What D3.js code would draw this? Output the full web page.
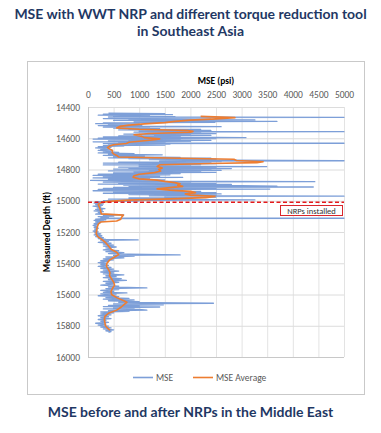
<!DOCTYPE html>
<html><head><meta charset="utf-8">
<script src="https://cdn.jsdelivr.net/npm/d3@7/dist/d3.min.js"></script>
<style>
html,body{margin:0;padding:0;background:#fff;}
svg{display:block;}
</style></head>
<body><svg id="c" width="381" height="433"></svg>
<script>
const titleTop = ["MSE with WWT NRP and different torque reduction tool", "in Southeast Asia"];
const titleBottom = "MSE before and after NRPs in the Middle East";
const xTicks = [0,500,1000,1500,2000,2500,3000,3500,4000,4500,5000];
const yTicks = [14400,14600,14800,15000,15200,15400,15600,15800,16000];
const seriesNames = ["MSE","MSE Average"];
const nrpDepth = 15010;
const nrpLabel = "NRPs installed";

// MSE: [depth ft, MSE psi]
const mseDepth = [14440,14443,14446,14449,14452,14455,14458,14461,14464,14466,14468,14471,14474,14477,14480,14483,14486,14489,14492,14495,14498,14501,14504,14507,14510,14513,14516,14519,14522,14526,14529,14532,14535,14538,14541,14544,14547,14550,14553,14556,14558,14561,14564,14567,14570,14573,14576,14579,14582,14585,14588,14591,14594,14596,14599,14602,14605,14608,14611,14614,14617,14620,14623,14626,14629,14632,14635,14638,14641,14644,14647,14650,14654,14658,14662,14666,14670,14674,14678,14682,14686,14690,14694,14698,14702,14706,14710,14714,14718,14722,14725,14728,14731,14734,14737,14740,14744,14747,14750,14753,14756,14759,14762,14765,14768,14771,14774,14778,14782,14785,14788,14791,14794,14797,14800,14803,14806,14809,14812,14815,14818,14822,14826,14830,14834,14838,14842,14846,14850,14854,14858,14862,14866,14870,14874,14878,14881,14884,14887,14890,14893,14896,14900,14903,14906,14909,14912,14915,14918,14921,14925,14928,14932,14936,14940,14944,14948,14952,14956,14960,14964,14968,14971,14974,14978,14982,14986,14990,14995,14999,15003,15006,
15010,15015,15020,15025,15030,15035,15040,15045,15050,15055,15060,15065,15070,15075,15080,15085,15090,15094,15098,15102,15106,15110,15112,15115,15118,15122,15126,15130,15135,15140,15146,15152,15158,15164,15170,15176,15182,15188,15194,15200,15206,15212,15218,15224,15230,15236,15242,15248,15251,15254,15260,15266,15272,15278,15284,15290,15296,15302,15308,15314,15320,15326,15332,15338,15342,15347,15350,15355,15360,15366,15372,15378,15384,15390,15396,15402,15408,15414,15420,15426,15432,15438,15444,15450,15456,15462,15468,15474,15480,15486,15492,15498,15504,15510,15516,15522,15528,15534,15540,15546,15552,15558,15562,15568,15574,15580,15586,15590,15596,15602,15608,15614,15620,15625,15630,15635,15640,15645,15650,15656,15660,15664,15667,15670,15674,15677,15680,15684,15688,15692,15696,15700,15704,15708,15712,15718,15724,15730,15736,15742,15748,15754,15760,15766,15772,15778,15784,15790,15796,15802,15808,15814,15820,15826,15832,15838,15842];
const mseValue = [400,1500,300,1650,200,1200,500,1700,400,5000,600,2400,300,2000,800,3260,500,2500,3690,900,2480,300,1000,150,800,400,1050,200,900,2600,300,1200,500,1400,800,2200,600,2400,1000,2300,5000,900,2200,1400,2500,700,2000,1300,2400,600,1800,300,2500,3085,200,2500,100,1800,800,2400,400,2000,100,1500,600,5000,300,1600,400,1500,300,700,200,450,150,400,250,470,200,450,300,600,200,900,400,1450,300,1100,500,1800,400,2400,800,2500,1200,2700,5000,1400,2600,600,2400,300,2500,1000,2200,300,2000,1000,3490,600,2500,800,2800,500,2400,1200,2600,400,2200,900,2500,500,1800,200,1600,100,1400,300,1850,100,1200,400,1500,50,1000,4430,300,2000,600,2500,200,2800,700,3000,3690,800,4400,500,2500,300,3550,200,1800,100,2200,500,2500,300,2600,800,2500,1200,5000,1500,2500,800,2000,400,3260,300,1000,150,
250,120,300,150,280,100,250,180,330,150,280,120,300,200,250,150,700,300,500,200,400,250,5000,300,150,350,120,300,150,250,120,200,100,180,120,200,130,180,100,200,130,250,120,270,150,300,200,350,980,250,400,200,450,300,500,300,550,350,450,300,600,350,700,400,800,1800,500,900,350,700,300,500,250,400,200,350,250,400,200,450,250,500,300,600,250,500,300,700,350,550,300,650,400,750,300,600,350,500,250,600,400,1150,350,600,250,500,300,760,250,550,200,600,350,800,300,900,400,1000,600,2450,500,1200,1470,400,1000,300,1400,500,900,300,1000,1150,400,800,250,500,250,450,200,400,250,450,200,350,250,400,150,350,200,400,250,450,300,500,350,450,400];

// MSE Average: [depth ft, MSE psi]
const avgDepth = [14460,14468,14476,14484,14492,14500,14508,14516,14524,14534,14542,14550,14556,14562,14570,14578,14588,14596,14604,14610,14618,14626,14634,14642,14650,14660,14670,14680,14690,14700,14710,14720,14728,14734,14742,14750,14756,14762,14770,14780,14790,14800,14810,14820,14830,14840,14850,14860,14868,14876,14884,14892,14900,14908,14916,14924,14932,14940,14948,14956,14964,14972,14980,14988,14996,15004,15012,15024,15040,15056,15070,15084,15092,15104,15118,15130,15136,15150,15170,15190,15210,15230,15250,15270,15290,15310,15330,15345,15360,15380,15400,15420,15440,15460,15480,15500,15520,15540,15560,15580,15600,15620,15640,15650,15660,15680,15700,15720,15740,15760,15780,15800,15815,15828];
const avgValue = [2200,2870,2500,2000,1700,1500,1100,800,620,560,1000,1950,2050,2000,1200,900,1050,1100,1400,1300,1050,800,750,500,420,380,430,480,470,500,560,600,1800,2850,2900,3420,3300,2400,1400,1350,1450,1380,1420,1300,1000,900,880,1000,1350,1500,1700,1800,1750,1850,1600,1350,1600,2000,2100,1900,2000,2480,2300,1600,800,400,250,200,220,240,250,260,690,660,640,560,250,200,180,170,160,190,280,350,400,450,560,600,520,420,370,360,400,430,420,460,500,520,480,450,460,560,700,760,720,650,560,400,330,320,330,340,380,430];

const svg = d3.select("#c");
const x = d3.scaleLinear().domain([0,5000]).range([88,344]);
const y = d3.scaleLinear().domain([14400,16000]).range([107,357]);

// outer chart border
svg.append("rect").attr("x",27.5).attr("y",61.5).attr("width",337).attr("height",333)
  .attr("fill","#fff").attr("stroke","#c9c9c9").attr("stroke-width",1);

// titles
const navy = "#1f3864";
svg.selectAll("text.tt").data(titleTop).join("text").attr("class","tt")
  .attr("x",190.5).attr("y",(d,i)=>19+i*17).attr("text-anchor","middle")
  .attr("font-family","Lato, 'Open Sans', sans-serif").attr("font-weight","bold")
  .attr("font-size",14).attr("fill",navy).text(d=>d);
svg.append("text").attr("x",190.5).attr("y",417).attr("text-anchor","middle")
  .attr("font-family","Lato, 'Open Sans', sans-serif").attr("font-weight","bold")
  .attr("font-size",14).attr("fill",navy).text(titleBottom);

// grid
const g = svg.append("g");
g.selectAll("line.vg").data(xTicks).join("line").attr("class","vg")
  .attr("x1",d=>x(d)+0.5).attr("x2",d=>x(d)+0.5).attr("y1",107).attr("y2",357)
  .attr("stroke","#e3e3e3").attr("stroke-width",1);
g.selectAll("line.hg").data(yTicks).join("line").attr("class","hg")
  .attr("x1",88).attr("x2",344).attr("y1",d=>y(d)+0.5).attr("y2",d=>y(d)+0.5)
  .attr("stroke","#dcdcdc").attr("stroke-width",1);
// axis lines
g.append("line").attr("x1",88.5).attr("x2",88.5).attr("y1",107).attr("y2",357.5).attr("stroke","#c8c8c8");
g.append("line").attr("x1",88).attr("x2",344).attr("y1",357.5).attr("y2",357.5).attr("stroke","#c8c8c8");

// axes labels
const xa = svg.append("g").attr("transform","translate(0,107)")
  .call(d3.axisTop(x).tickValues(xTicks).tickSize(0).tickPadding(9).tickFormat(d3.format("d")));
xa.select(".domain").remove();
xa.selectAll("text").attr("font-family","Calibri, Carlito, 'Liberation Sans', sans-serif").attr("font-size",9.5).attr("fill","#595959");
const ya = svg.append("g").attr("transform","translate(88,0)")
  .call(d3.axisLeft(y).tickValues(yTicks).tickSize(0).tickPadding(8).tickFormat(d3.format("d")));
ya.select(".domain").remove();
ya.selectAll("text").attr("font-family","Calibri, Carlito, 'Liberation Sans', sans-serif").attr("font-size",9.5).attr("fill","#595959");

svg.append("text").attr("x",216).attr("y",84).attr("text-anchor","middle")
  .attr("font-family","Calibri, Carlito, 'Liberation Sans', sans-serif").attr("font-weight","bold")
  .attr("font-size",9.5).attr("fill","#000").text("MSE (psi)");
svg.append("text").attr("transform","translate(50,232) rotate(-90)").attr("text-anchor","middle")
  .attr("font-family","Calibri, Carlito, 'Liberation Sans', sans-serif").attr("font-weight","bold")
  .attr("font-size",9.5).attr("fill","#000").text("Measured Depth (ft)");

// series
const mse = mseDepth.map((d,i)=>[d,mseValue[i]]);
const avg = avgDepth.map((d,i)=>[d,avgValue[i]]);
const line = d3.line().x(d=>x(d[1])).y(d=>y(d[0]));
svg.append("path").datum(mse).attr("d",line).attr("fill","none")
  .attr("stroke","#7d9fd8").attr("stroke-width",1.3).attr("stroke-linejoin","round");
svg.append("path").datum(avg).attr("d",line).attr("fill","none")
  .attr("stroke","#ed7d31").attr("stroke-width",1.6).attr("stroke-linejoin","round");

// NRP line and label
svg.append("line").attr("x1",88).attr("x2",344).attr("y1",y(nrpDepth)).attr("y2",y(nrpDepth))
  .attr("stroke","#e41a1c").attr("stroke-width",1.5).attr("stroke-dasharray","4,2.5");
svg.append("rect").attr("x",280.5).attr("y",205.5).attr("width",62).attr("height",10)
  .attr("fill","#fff").attr("stroke","#d9262c").attr("stroke-width",1);
svg.append("text").attr("x",311.5).attr("y",213.5).attr("text-anchor","middle")
  .attr("font-family","Calibri, Carlito, 'Liberation Sans', sans-serif").attr("font-size",8.5)
  .attr("fill","#333").text(nrpLabel);

// legend
const legColors = ["#7d9fd8","#ed7d31"];
const legX = [133,193];
const lg = svg.append("g");
seriesNames.forEach((n,i)=>{
  lg.append("line").attr("x1",legX[i]).attr("x2",legX[i]+20).attr("y1",377.5).attr("y2",377.5)
    .attr("stroke",legColors[i]).attr("stroke-width",1.6);
  lg.append("text").attr("x",legX[i]+23).attr("y",380.5)
    .attr("font-family","Calibri, Carlito, 'Liberation Sans', sans-serif").attr("font-size",9.5)
    .attr("fill","#595959").text(n);
});
</script>
</body></html>
